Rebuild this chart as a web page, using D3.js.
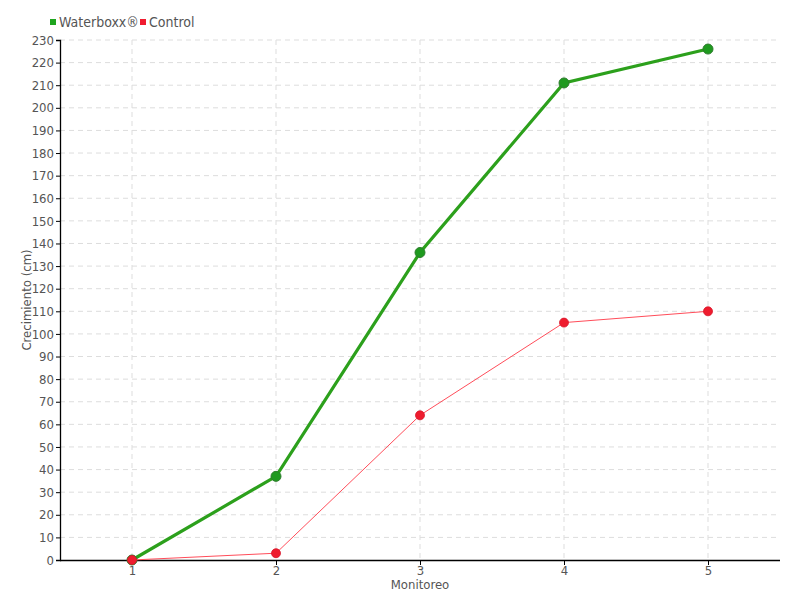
<!DOCTYPE html>
<html>
<head>
<meta charset="utf-8">
<script src="https://cdn.jsdelivr.net/npm/d3@7.9.0/dist/d3.min.js"></script>
<style>
  body { margin: 0; background: #fff; }
  svg text { font-family: "DejaVu Sans", sans-serif; font-stretch: condensed; fill: #555; }
</style>
</head>
<body>
<svg id="chart" width="800" height="600"></svg>
<script>
const monitoreo = [1, 2, 3, 4, 5];
const waterboxx = [0, 37, 136, 211, 226];
const control = [0, 3, 64, 105, 110];
const yTicks = d3.range(0, 231, 10);

const svg = d3.select('#chart');
const x = d3.scaleLinear().domain([0.5, 5.5]).range([60, 780]);
const y = d3.scaleLinear().domain([0, 230]).range([560, 40]);

// grid
svg.append('g').selectAll('line').data(yTicks.slice(1)).join('line')
  .attr('x1', 60).attr('x2', 780)
  .attr('y1', d => y(d)).attr('y2', d => y(d))
  .attr('stroke', '#ddd').attr('stroke-dasharray', '5,4');
svg.append('g').selectAll('line').data(monitoreo).join('line')
  .attr('x1', d => x(d)).attr('x2', d => x(d))
  .attr('y1', 40).attr('y2', 560)
  .attr('stroke', '#ddd').attr('stroke-dasharray', '5,4');

// axes
const yAxis = svg.append('g').attr('transform', 'translate(60,0)')
  .call(d3.axisLeft(y).tickValues(yTicks).tickSize(4).tickPadding(2));
const xAxis = svg.append('g').attr('transform', 'translate(0,560)')
  .call(d3.axisBottom(x).tickValues(monitoreo).tickSize(5).tickPadding(1).tickFormat(d3.format('d')));
[yAxis, xAxis].forEach(a => {
  a.select('.domain').attr('stroke', '#000').attr('stroke-width', 1.3);
  a.selectAll('.tick line').attr('stroke', '#000');
  a.selectAll('text').attr('font-size', 13).attr('fill', '#555');
});
xAxis.select('.domain').attr('d', 'M60,0.5H780');

svg.append('text').attr('x', 420).attr('y', 589).attr('text-anchor', 'middle')
  .attr('font-size', 13).text('Monitoreo');
svg.append('text').attr('transform', 'translate(31,300) rotate(-90)').attr('text-anchor', 'middle')
  .attr('font-size', 13).text('Crecimiento (cm)');

const line = d3.line().x((d, i) => x(monitoreo[i])).y(d => y(d));

// Waterboxx
svg.append('path').datum(waterboxx).attr('d', line)
  .attr('fill', 'none').attr('stroke', '#2ca01c').attr('stroke-width', 3.2);
svg.append('g').selectAll('circle').data(waterboxx).join('circle')
  .attr('cx', (d, i) => x(monitoreo[i])).attr('cy', d => y(d)).attr('r', 5)
  .attr('fill', '#1f9a1f').attr('stroke', '#2e7d2e').attr('stroke-width', 1);

// Control
svg.append('path').datum(control).attr('d', line)
  .attr('fill', 'none').attr('stroke', '#ff4d5a').attr('stroke-width', 1);
svg.append('g').selectAll('circle').data(control).join('circle')
  .attr('cx', (d, i) => x(monitoreo[i])).attr('cy', d => y(d)).attr('r', 4.5)
  .attr('fill', '#ee1c2e').attr('stroke', '#d8152a').attr('stroke-width', 0.8);

// legend
const legend = [
  { label: 'Waterboxx®', color: '#1fa51f', x: 50 },
  { label: 'Control', color: '#f01c30', x: 140 }
];
const lg = svg.append('g').selectAll('g').data(legend).join('g')
  .attr('transform', d => `translate(${d.x},0)`);
lg.append('rect').attr('x', 0).attr('y', 19).attr('width', 6).attr('height', 6).attr('fill', d => d.color);
lg.append('text').attr('x', 9).attr('y', 27).attr('font-size', 14).text(d => d.label);
</script>
</body>
</html>
